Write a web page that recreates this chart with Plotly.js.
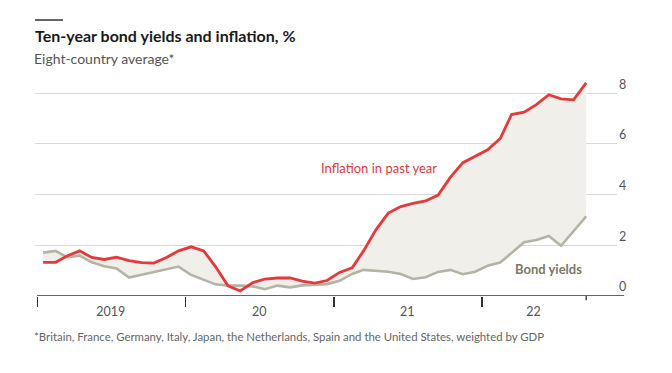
<!DOCTYPE html>
<html>
<head>
<meta charset="utf-8">
<script src="https://cdn.plot.ly/plotly-3.0.1.min.js"></script>
<style>html,body{margin:0;padding:0;background:#fff;}#chart{width:672px;height:373px;}</style>
</head>
<body>
<div id="chart"></div>
<script>
// Monthly observations, Jan 2019 – Sep 2022 (plotted mid-month)
const months = [
  "2019-01-15","2019-02-15","2019-03-15","2019-04-15","2019-05-15","2019-06-15",
  "2019-07-15","2019-08-15","2019-09-15","2019-10-15","2019-11-15","2019-12-15",
  "2020-01-15","2020-02-15","2020-03-15","2020-04-15","2020-05-15","2020-06-15",
  "2020-07-15","2020-08-15","2020-09-15","2020-10-15","2020-11-15","2020-12-15",
  "2021-01-15","2021-02-15","2021-03-15","2021-04-15","2021-05-15","2021-06-15",
  "2021-07-15","2021-08-15","2021-09-15","2021-10-15","2021-11-15","2021-12-15",
  "2022-01-15","2022-02-15","2022-03-15","2022-04-15","2022-05-15","2022-06-15",
  "2022-07-15","2022-08-15","2022-09-15"
];
const inflation = [
  1.33,1.33,1.58,1.78,1.52,1.44,1.53,1.40,1.32,1.30,1.52,1.78,
  1.94,1.78,1.16,0.40,0.20,0.53,0.67,0.71,0.71,0.59,0.51,0.61,
  0.93,1.11,1.78,2.62,3.27,3.53,3.65,3.75,3.98,4.68,5.26,5.50,
  5.77,6.21,7.16,7.25,7.55,7.94,7.78,7.74,8.41
];
const bondYields = [
  1.71,1.78,1.53,1.59,1.33,1.17,1.09,0.73,0.84,0.94,1.04,1.16,
  0.83,0.63,0.46,0.41,0.41,0.38,0.27,0.41,0.34,0.42,0.46,0.47,
  0.60,0.87,1.03,0.99,0.96,0.87,0.67,0.74,0.95,1.03,0.86,0.96,
  1.19,1.32,1.71,2.12,2.21,2.37,1.98,2.54,3.14
];
const yearTickLabels = ["2019","20","21","22"];
const yearLabelPos = ["2019-07-01","2020-07-01","2021-07-01","2022-05-08"];
const yearBoundaries = ["2019-01-01","2020-01-01","2021-01-01","2022-01-01"];
const yTicks = [0,2,4,6,8];

const titleText = "Ten-year bond yields and inflation, %";
const subtitleText = "Eight-country average*";
const footnoteText = "*Britain, France, Germany, Italy, Japan, the Netherlands, Spain and the United States, weighted by GDP";
const seriesNames = ["Bond yields","Inflation in past year"];

const FONT = "Lato, 'Noto Sans', sans-serif";

const traces = [
  {
    x: months, y: bondYields, type: "scatter", mode: "lines", name: seriesNames[0],
    line: {color: "#b5b3a5", width: 2.6}, hoverinfo: "skip"
  },
  {
    x: months, y: inflation, type: "scatter", mode: "lines", name: seriesNames[1],
    line: {color: "#e5393b", width: 2.8}, fill: "tonexty", fillcolor: "#f1efea", hoverinfo: "skip"
  }
];

const layout = {
  width: 672, height: 373,
  margin: {l: 35, r: 55, t: 78, b: 77},
  paper_bgcolor: "#ffffff", plot_bgcolor: "#ffffff",
  showlegend: false,
  font: {family: FONT, color: "#555555"},
  title: {
    text: titleText, x: 35/672, xanchor: "left", xref: "container",
    y: 1 - 36/373, yanchor: "middle", yref: "container",
    font: {family: FONT, size: 16, color: "#1a1a1a", weight: "bold"}
  },
  xaxis: {
    type: "date", range: ["2018-12-26","2022-11-30"],
    showgrid: false, zeroline: false, showline: false,
    tickmode: "array", tickvals: yearLabelPos, ticktext: yearTickLabels,
    ticks: "", ticklabelstandoff: 6,
    tickfont: {family: FONT, size: 12.5, color: "#555555"},
    minor: {tickmode: "array", tickvals: yearBoundaries, ticks: "outside", ticklen: 10, tickwidth: 1.3, tickcolor: "#333333", showgrid: false}
  },
  yaxis: {
    range: [0, 8.6], side: "right",
    tickmode: "array", tickvals: yTicks, ticks: "",
    showgrid: true, gridcolor: "#d9d9d9", gridwidth: 1, zeroline: false, showline: false,
    ticklabelstandoff: 1, ticklabelshift: -9,
    tickfont: {family: FONT, size: 12.5, color: "#555555"}
  },
  shapes: [
    {type: "line", xref: "paper", yref: "y", x0: 0.0034, x1: 1.012, y0: 0, y1: 0, line: {color: "#333333", width: 1.3}},
    {type: "line", xref: "x", yref: "paper", x0: "2022-09-15", x1: "2022-09-15", y0: 0, y1: -0.02, line: {color: "#333333", width: 1.3}},
    {type: "line", xref: "paper", yref: "paper", x0: 0, x1: 0.048, y0: 1.266, y1: 1.266, line: {color: "#333333", width: 1.5}}
  ],
  annotations: [
    {text: subtitleText, xref: "paper", yref: "paper", x: 0, y: (296-58)/218, xanchor: "left", yanchor: "middle", showarrow: false,
     xshift: -3, font: {family: FONT, size: 14, color: "#555555"}},
    {text: footnoteText, xref: "paper", yref: "paper", x: 0, y: (296-336)/218, xanchor: "left", yanchor: "middle", showarrow: false,
     xshift: -3, font: {family: FONT, size: 11.4, color: "#666666"}},
    {text: seriesNames[1], xref: "x", yref: "y", x: "2021-04-21", y: 5.06, xanchor: "center", yanchor: "middle", showarrow: false,
     font: {family: FONT, size: 13, color: "#e5393b"}},
    {text: seriesNames[0], xref: "x", yref: "y", x: "2022-06-14", y: 1.07, xanchor: "center", yanchor: "middle", showarrow: false,
     font: {family: FONT, size: 13, color: "#7d7765", weight: "bold"}}
  ]
};

Plotly.newPlot("chart", traces, layout, {displayModeBar: false, staticPlot: true});
</script>
</body>
</html>
